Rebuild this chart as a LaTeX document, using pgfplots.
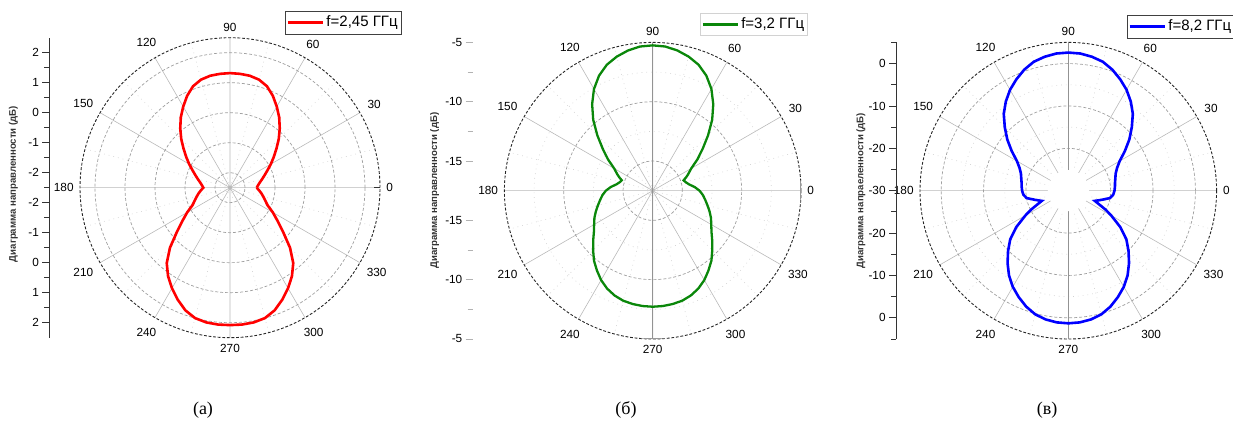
\documentclass[border=0pt]{standalone}
\usepackage{fontspec}
\setmainfont{Liberation Sans}
\newfontfamily\serif{Liberation Serif}
\usepackage{pgfplots}
\usepackage{pgfplotstable}
\pgfplotsset{compat=1.18}
\usepgfplotslibrary{polar}

\pgfplotstableread{
ang db
0 -1.61
5 -1.56
10 -1.49
15 -1.39
20 -1.27
25 -1.12
30 -0.93
35 -0.72
40 -0.48
45 -0.20
50 0.08
55 0.36
60 0.62
65 0.88
70 1.10
75 1.23
80 1.29
85 1.31
90 1.32
95 1.31
100 1.29
105 1.23
110 1.10
115 0.88
120 0.62
125 0.36
130 0.08
135 -0.20
140 -0.48
145 -0.72
150 -0.93
155 -1.12
160 -1.27
165 -1.39
170 -1.49
175 -1.56
180 -1.61
185 -1.53
190 -1.44
195 -1.35
200 -1.25
205 -1.12
210 -0.85
215 -0.56
220 -0.18
225 0.33
230 0.78
235 1.10
240 1.37
245 1.62
250 1.85
255 2.00
260 2.06
265 2.08
270 2.08
275 2.08
280 2.06
285 2.00
290 1.85
295 1.62
300 1.37
305 1.10
310 0.78
315 0.33
320 -0.18
325 -0.56
330 -0.85
335 -1.12
340 -1.25
345 -1.35
350 -1.44
355 -1.53
360 -1.61
}\tabA

\pgfplotstableread{
ang db
0 -13.55
5 -13.95
10 -14.40
15 -14.65
18.6 -14.75
22 -14.45
25 -14.20
30 -13.75
35 -12.90
40 -12.00
45 -10.90
50 -9.70
55 -8.60
60 -7.60
65 -6.80
70 -6.20
75 -5.80
80 -5.50
85 -5.30
90 -5.25
95 -5.30
100 -5.50
105 -5.80
110 -6.20
115 -6.80
120 -7.60
125 -8.60
130 -9.70
135 -10.90
140 -12.00
145 -12.90
150 -13.75
155 -14.20
158 -14.45
161.4 -14.75
165 -14.65
170 -14.40
175 -13.95
180 -13.55
185 -13.25
190 -13.00
195 -12.72
200 -12.40
205 -12.08
210 -11.80
215 -11.45
220 -10.95
225 -10.40
230 -9.80
235 -9.30
240 -8.80
245 -8.40
250 -8.10
255 -7.90
260 -7.80
265 -7.74
270 -7.72
275 -7.74
280 -7.80
285 -7.90
290 -8.10
295 -8.40
300 -8.80
305 -9.30
310 -9.80
315 -10.40
320 -10.95
325 -11.45
330 -11.80
335 -12.08
340 -12.40
345 -12.72
350 -13.00
355 -13.25
360 -13.55
}\tabB

\pgfplotstableread{
ang db
0 -19.10
5 -18.95
10 -18.80
15 -18.50
20 -18.10
25 -17.30
30 -16.00
35 -13.70
40 -11.20
45 -8.80
50 -6.30
55 -4.30
60 -2.50
65 -1.00
70 0.40
75 1.50
80 2.10
85 2.50
90 2.60
95 2.50
100 2.10
105 1.50
110 0.40
115 -1.00
120 -2.50
125 -4.30
130 -6.30
135 -8.80
140 -11.20
145 -13.70
150 -16.00
155 -17.30
160 -18.10
165 -18.50
170 -18.80
175 -18.95
180 -19.10
185 -19.35
190 -20.00
195 -21.75
198 -22.60
201 -23.30
204 -22.00
207 -20.10
210 -18.30
215 -15.00
220 -12.10
225 -9.90
230 -7.70
235 -5.60
240 -3.80
245 -2.30
250 -0.90
255 0.20
260 0.85
265 1.20
270 1.30
275 1.20
280 0.85
285 0.20
290 -0.90
295 -2.30
300 -3.80
305 -5.60
310 -7.70
315 -9.90
320 -12.10
325 -15.00
330 -18.30
333 -20.10
336 -22.00
339 -23.30
342 -22.60
345 -21.75
350 -20.00
355 -19.35
360 -19.10
}\tabC

\definecolor{cgreen}{RGB}{10,135,10}
\newcommand{\tickfont}{\fontsize{5.9}{7}\selectfont}
\newcommand{\legfont}{\fontsize{7.5}{8.5}\selectfont}

\pgfplotsset{
  /pgf/number format/assume math mode=true,
  mypolar/.style={
    anchor=center, scale only axis,
    xmin=0, xmax=360,
    xtick={0,30,...,330},
    minor xtick={15,45,...,345},
    yticklabels={},
    grid=both,
    major x grid style={gray!55, line width=0.3pt},
    minor x grid style={gray!35, dotted, line width=0.3pt},
    major y grid style={gray!75, dash pattern=on 1.5pt off 1pt, line width=0.35pt},
    minor y grid style={gray!35, dotted, line width=0.3pt},
    x axis line style={black!85, dash pattern=on 1.4pt off 0.9pt, line width=0.45pt},
    y axis line style={draw=none},
    tick style={draw=none},
    xticklabel style={font=\tickfont, inner sep=3pt},
    legend cell align=left,
    legend image code/.code={\draw[##1] (0pt,0pt) -- (17.5pt,0pt);},
    legend style={anchor=north west, font=\legfont, inner xsep=0.6pt, inner ysep=0.6pt,
      nodes={inner xsep=1.2pt, inner ysep=1.6pt}, line width=0.4pt},
  },
  myradial/.style={
    anchor=west, scale only axis, width=1pt,
    xmin=0, xmax=1,
    axis x line=none, axis y line*=left,
    tick align=outside,
    major tick length=3.5pt, minor tick length=2.5pt,
    yticklabel style={font=\tickfont, inner sep=1.5pt},
    ylabel style={font=\fontsize{4.8}{5.5}\selectfont\bfseries, text=black!80,
      at={(rel axis cs:0,0.5)}, anchor=center},
  }
}

\begin{document}
\begin{tikzpicture}
\path[use as bounding box] (0,0) rectangle (616.5pt,214pt);

% ---------- (a) ----------
\begin{polaraxis}[mypolar, at={(115pt,120.15pt)}, width=150pt, height=150pt,
  ymin=0, ymax=5, ytick={0.5,1.5,2.5,3.5,4.5},
  legend style={at={(0.683,1.089)}, draw=black!75}]
\draw[black!80, line width=0.45pt] (axis cs:0,5) ++(0,-4pt) -- ++(0,8pt);
\draw[black!80, line width=0.45pt] (axis cs:0,5) -- ++(-3pt,0);
\draw[black!80, line width=0.45pt] (axis cs:90,5) -- ++(0,2pt);
\draw[black!80, line width=0.45pt] (axis cs:180,5) -- ++(-2.5pt,0);
\draw[black!80, line width=0.45pt] (axis cs:270,5) -- ++(0,-2pt);
\addplot[red, line width=1.3pt] table[x=ang, y expr=\thisrow{db}+2.5] {\tabA};
\addlegendentry{f=2,45 ГГц}
\end{polaraxis}
\begin{axis}[myradial, at={(24.65pt,120.15pt)}, height=150pt,
  ymin=-5, ymax=5,
  ytick={-4.5,-3.5,-2.5,-1.5,-0.5,0.5,1.5,2.5,3.5,4.5},
  yticklabels={2,1,0,-1,-2,-2,-1,0,1,2},
  minor ytick={-4,-3,-2,-1,0,1,2,3,4},
  y axis line style={black!80, line width=0.45pt},
  ytick style={black!80, line width=0.45pt},
  ylabel={Диаграмма направленности (дБ)},
  ylabel style={yshift=18pt, xshift=1.8pt}]
\end{axis}

% ---------- (b) ----------
\begin{polaraxis}[mypolar, at={(326.35pt,118.65pt)}, width=148.3pt, height=148.3pt,
  ymin=0, ymax=12.5, ytick={2.5,7.5}, minor ytick={5,10},
  legend style={at={(0.6595,1.100)}, draw=gray!35}]
\draw[gray!85, line width=0.5pt] (axis cs:90,12.5) -- (axis cs:270,12.5);
\draw[gray!80, line width=0.8pt] (axis cs:0,12.5) ++(0,-5.5pt) -- ++(0,11pt);
\draw[gray!80, line width=0.8pt] (axis cs:270,12.5) ++(-6pt,0) -- ++(12pt,0);
\addplot[cgreen, line width=1.15pt] table[x=ang, y expr=\thisrow{db}+17.5] {\tabB};
\addlegendentry{f=3,2 ГГц}
\end{polaraxis}
\begin{axis}[myradial, at={(236.35pt,118.65pt)}, height=148.3pt,
  ymin=-12.5, ymax=12.5,
  ytick={-12.5,-7.5,-2.5,2.5,7.5,12.5},
  yticklabels={-5,-10,-15,-15,-10,-5},
  minor ytick={-10,-5,5,10},
  y axis line style={draw=none},
  ytick style={gray!60, line width=0.45pt},
  ylabel={Диаграмма направленности (дБ)},
  ylabel style={yshift=19pt}]
\end{axis}

% ---------- (c) ----------
\begin{polaraxis}[mypolar, at={(534.15pt,118.65pt)}, width=148.3pt, height=148.3pt,
  ymin=0, ymax=35, ytick={10,20,30}, minor ytick={15,25},
  legend style={at={(0.697,1.0924)}, draw=black!75}]
\draw[gray!85, line width=0.5pt] (axis cs:90,35) -- (axis cs:270,35);
\draw[black!70, line width=0.6pt] (axis cs:0,35) ++(0,-5pt) -- ++(0,10pt);
\node[circle, fill=white, inner sep=0pt, minimum size=20.5pt] at (axis cs:0,0) {};
\addplot[blue, line width=1.3pt] table[x=ang, y expr=\thisrow{db}+30] {\tabC};
\addlegendentry{f=8,2 ГГц}
\end{polaraxis}
\begin{axis}[myradial, at={(448pt,118.65pt)}, height=148.3pt,
  ymin=-35, ymax=35,
  ytick={-30,-20,-10,0,10,20,30},
  yticklabels={0,-10,-20,-30,-20,-10,0},
  minor ytick={-35,-25,-15,-5,5,15,25,35},
  y axis line style={black!80, line width=0.45pt},
  ytick style={black!80, line width=0.45pt},
  ylabel={Диаграмма напраеленности (дБ)},
  ylabel style={yshift=17.5pt}]
\end{axis}

% captions
\node[font=\serif\fontsize{9}{10}\selectfont] at (101.5pt,9pt) {(а)};
\node[font=\serif\fontsize{9}{10}\selectfont] at (313pt,9pt) {(б)};
\node[font=\serif\fontsize{9}{10}\selectfont] at (523.5pt,9pt) {(в)};
\end{tikzpicture}
\end{document}
